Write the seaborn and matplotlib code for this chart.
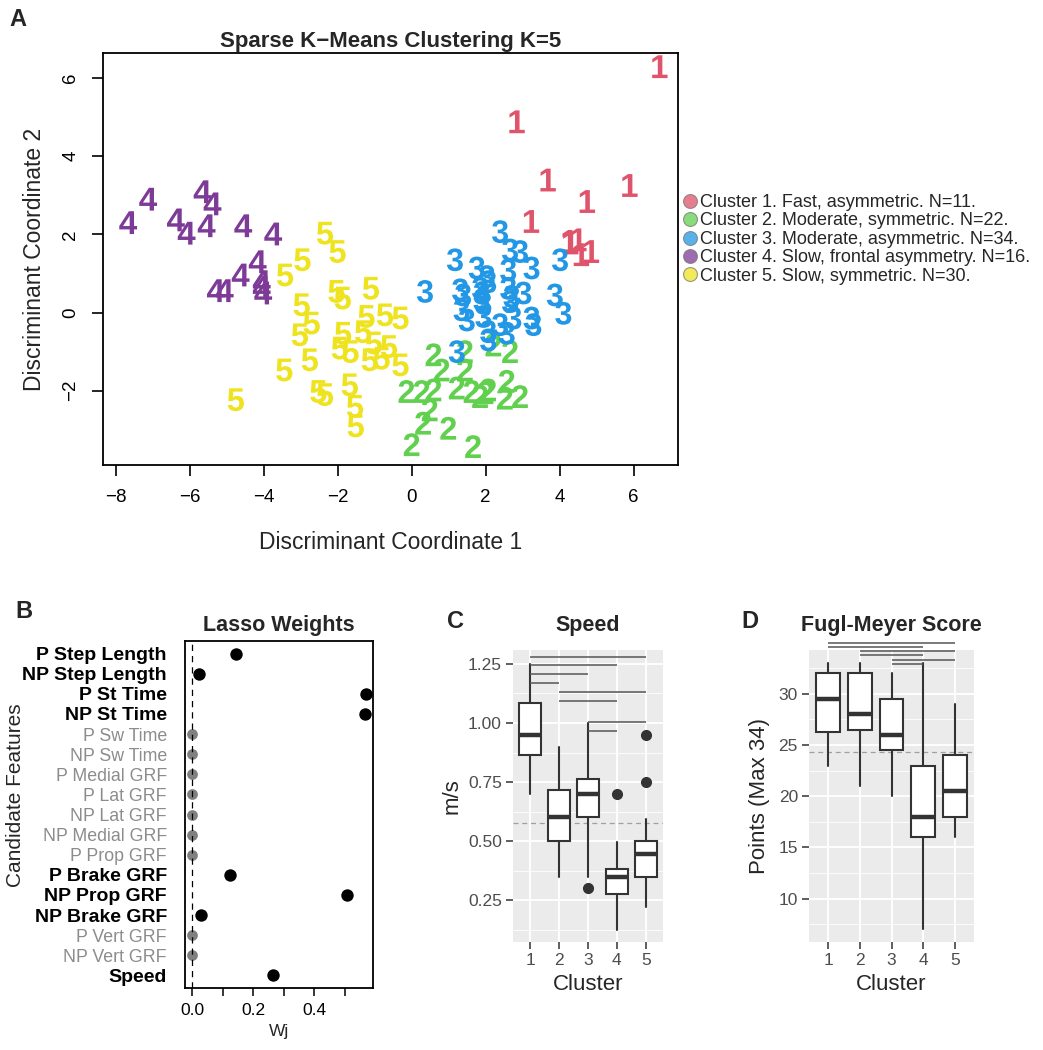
import numpy as np
import pandas as pd
import matplotlib.pyplot as plt
import seaborn as sns
from matplotlib.lines import Line2D

# ---------------- data ----------------
# Panel A: discriminant coordinates, one pair of lists per cluster
c1_x = [6.71, 2.85, 3.69, 5.90, 4.75, 3.24, 4.28, 4.52, 4.59, 4.86, 4.30]
c1_y = [6.29, 4.88, 3.39, 3.25, 2.84, 2.33, 1.82, 1.86, 1.48, 1.56, 1.78]
c2_x = [0.59, 1.44, 2.21, 2.66, 0.81, 1.44, -0.14, 0.27, 0.59, 1.22, 1.62,
        1.85, 2.07, 2.57, 2.52, 2.93, 0.49, 0.31, 0.99, 0.00, 1.66, 2.00]
c2_y = [-1.08, -1.00, -0.83, -1.00, -1.47, -1.47, -2.02, -2.02, -1.98, -1.93, -2.02,
        -2.15, -1.98, -1.76, -2.19, -2.15, -2.49, -2.83, -2.96, -3.38, -3.43, -2.05]
c3_x = [2.39, 2.66, 2.93, 3.24, 1.17, 4.01, 2.61, 1.76, 2.03, 0.36, 1.31, 1.39,
        1.85, 1.89, 1.89, 2.07, 2.61, 2.70, 2.66, 3.02, 3.87, 4.10, 1.35, 1.49,
        1.94, 2.75, 3.24, 3.29, 2.39, 2.57, 2.07, 2.07, 1.22, 1.94]
c3_y = [2.07, 1.60, 1.56, 1.14, 1.35, 1.35, 1.09, 1.14, 0.92, 0.54, 0.58, 0.45,
        0.62, 0.50, 0.32, 0.79, 0.62, 0.41, 0.28, 0.50, 0.45, -0.02, 0.07, -0.19,
        -0.10, -0.14, -0.14, -0.31, -0.31, -0.53, -0.49, -0.70, -1.00, 0.24]
c4_x = [-7.66, -7.12, -6.37, -6.08, -5.65, -5.38, -5.54, -4.55, -3.74, -4.16,
        -4.62, -4.05, -4.01, -4.05, -5.29, -5.05]
c4_y = [2.30, 2.90, 2.37, 2.03, 3.09, 2.78, 2.22, 2.22, 2.01, 1.30,
        0.96, 0.79, 0.50, 0.65, 0.56, 0.56]
c5_x = [-2.34, -2.00, -2.95, -3.42, -1.10, -2.03, -1.86, -2.97, -2.70, -3.02,
        -1.22, -0.72, -0.30, -1.85, -1.31, -1.02, -0.61, -1.94, -1.65, -1.13,
        -0.81, -0.30, -2.75, -3.44, -1.67, -2.52, -2.34, -1.53, -1.51, -4.75]
c5_y = [2.03, 1.56, 1.35, 0.96, 0.62, 0.54, 0.37, 0.20, -0.27, -0.57,
        -0.10, -0.06, -0.14, -0.53, -0.49, -0.78, -0.87, -0.91, -1.00, -1.21,
        -1.17, -1.34, -1.21, -1.47, -1.85, -2.02, -2.10, -2.40, -2.90, -2.23]

cluster_names = ["1", "2", "3", "4", "5"]
cluster_colors = ["#DF536B", "#61D04F", "#2297E6", "#7D3B97", "#EEE31E"]
legend_labels = [
    "Cluster 1. Fast, asymmetric. N=11.",
    "Cluster 2. Moderate, symmetric. N=22.",
    "Cluster 3. Moderate, asymmetric. N=34.",
    "Cluster 4. Slow, frontal asymmetry. N=16.",
    "Cluster 5. Slow, symmetric. N=30.",
]

# Panel B: lasso weights
features = ["P Step Length", "NP Step Length", "P St Time", "NP St Time",
            "P Sw Time", "NP Sw Time", "P Medial GRF", "P Lat GRF", "NP Lat GRF",
            "NP Medial GRF", "P Prop GRF", "P Brake GRF", "NP Prop GRF",
            "NP Brake GRF", "P Vert GRF", "NP Vert GRF", "Speed"]
lasso_w = [0.144, 0.022, 0.568, 0.565, 0, 0, 0, 0, 0, 0, 0,
           0.124, 0.506, 0.029, 0, 0, 0.265]

# Panel C: speed box summaries per cluster
speed_lo = [0.70, 0.35, 0.35, 0.125, 0.22]
speed_q1 = [0.865, 0.50, 0.60, 0.275, 0.35]
speed_med = [0.95, 0.60, 0.70, 0.35, 0.445]
speed_q3 = [1.085, 0.715, 0.765, 0.38, 0.50]
speed_hi = [1.25, 0.90, 1.00, 0.495, 0.595]
speed_out = [[], [], [0.30], [0.70], [0.95, 0.75]]
speed_ref = 0.578
speed_pairs = [(1, 5), (1, 4), (1, 3), (1, 2), (2, 5), (2, 4), (3, 5), (3, 4)]
speed_bar_y = [1.281, 1.246, 1.208, 1.171, 1.131, 1.093, 1.004, 0.966]

# Panel D: Fugl-Meyer box summaries per cluster
fm_lo = [23, 21, 20, 7, 16]
fm_q1 = [26.25, 26.5, 24.5, 16, 18]
fm_med = [29.5, 28, 26, 18, 20.5]
fm_q3 = [32, 32, 29.5, 23, 24]
fm_hi = [33, 33, 32, 33, 29]
fm_out = [[], [], [], [], []]
fm_ref = 24.3
fm_pairs = [(1, 5), (1, 4), (2, 5), (2, 4), (3, 5), (3, 4)]
fm_bar_y = [34.95, 34.56, 34.2, 33.78, 33.32, 32.93]

# ---------------- style ----------------
sns.set_style("white")
plt.rcParams["font.family"] = ["Liberation Sans", "DejaVu Sans"]
plt.rcParams["mathtext.fontset"] = "custom"
plt.rcParams["mathtext.rm"] = "Liberation Sans:bold"
plt.rcParams["mathtext.it"] = "Liberation Sans:bold"

fig = plt.figure(figsize=(10.43, 10.5), dpi=100)
W, H = 1043, 1050


def px_axes(left, top, right, bottom):
    return fig.add_axes([left / W, 1 - bottom / H, (right - left) / W, (bottom - top) / H])


# ---------------- panel A ----------------
axA = px_axes(103, 53, 678, 465)
xs = [c1_x, c2_x, c3_x, c4_x, c5_x]
ys = [c1_y, c2_y, c3_y, c4_y, c5_y]
dfA = pd.concat([pd.DataFrame({"dc1": x, "dc2": y, "cluster": n})
                 for x, y, n in zip(xs, ys, cluster_names)], ignore_index=True)
sns.scatterplot(data=dfA, x="dc1", y="dc2", hue="cluster", style="cluster",
                palette=dict(zip(cluster_names, cluster_colors)),
                markers={n: f"${n}$" for n in cluster_names},
                s=270, linewidth=0, legend=False, ax=axA)
axA.set_xlim(-8.34, 7.2)
axA.set_ylim(-3.9, 6.64)
axA.set_xticks(np.arange(-8, 7, 2))
axA.set_yticks(np.arange(-2, 7, 2))
axA.tick_params(direction="out", length=8, width=1.2, labelsize=13.5, pad=9,
                left=True, bottom=True, colors="black")
axA.tick_params(axis="y", labelrotation=90)
for lab in axA.get_yticklabels():
    lab.set_verticalalignment("center")
for s in axA.spines.values():
    s.set_color("black")
    s.set_linewidth(1.3)
axA.set_xlabel("Discriminant Coordinate 1", fontsize=16.5, labelpad=18)
axA.set_ylabel("Discriminant Coordinate 2", fontsize=16.5, labelpad=12)
axA.set_title("Sparse K\u2212Means Clustering K=5", fontsize=16, fontweight="bold", pad=4.5)

handles = [Line2D([], [], marker="o", ls="", markersize=10,
                  markerfacecolor=c, markeredgecolor="#777777", markeredgewidth=0.8, alpha=0.75)
           for c in cluster_colors]
fig.legend(handles, legend_labels, loc="upper left", bbox_to_anchor=(683 / W, 1 - 194 / H),
           frameon=False, fontsize=13, handlelength=0.8, handletextpad=0.15,
           labelspacing=0.08, borderpad=0, borderaxespad=0)

# ---------------- panel B ----------------
axB = px_axes(185, 641, 373, 988)
rows = np.arange(len(features))
dfB = pd.DataFrame({"w": lasso_w, "row": rows, "sel": [w > 0 for w in lasso_w]})
sns.scatterplot(data=dfB[dfB.sel], x="w", y="row", color="black", s=80,
                linewidth=0, ax=axB)
sns.scatterplot(data=dfB[~dfB.sel], x="w", y="row", color="#808080", s=60,
                linewidth=0, ax=axB)
axB.axvline(0, color="black", lw=0.9, ls=(0, (5, 4)))
axB.set_xlim(-0.0227, 0.591)
axB.set_ylim(16.63, -0.63)
axB.set_xticks(np.arange(0, 0.51, 0.1))
axB.set_xticklabels(["0.0", "", "0.2", "", "0.4", ""])
axB.set_yticks(rows)
axB.set_yticklabels(features)
for lab, w in zip(axB.get_yticklabels(), lasso_w):
    if w > 0:
        lab.set_fontweight("bold")
        lab.set_color("black")
        lab.set_fontsize(14)
    else:
        lab.set_color("#8c8c8c")
        lab.set_fontsize(12.8)
axB.set_yticks([4, 9, 14], minor=True)
axB.tick_params(axis="y", which="major", length=0, pad=13)
axB.tick_params(axis="y", which="minor", length=7, width=1.2, left=True, color="black")
axB.tick_params(axis="x", direction="out", length=6, width=1.1, labelsize=12.5,
                bottom=True, pad=5, colors="black")
for s in axB.spines.values():
    s.set_color("black")
    s.set_linewidth(1.3)
axB.set_xlabel("Wj", fontsize=12.5, labelpad=4)
axB.set_ylabel("Candidate Features", fontsize=15)
axB.yaxis.set_label_coords((25 - 185) / 188, 0.556)
axB.set_title("Lasso Weights", fontsize=15.5, fontweight="bold", pad=7)


# ---------------- panels C and D (ggplot look) ----------------
def gg_box(ax, lo, q1, med, q3, hi, out, ref, pairs, bar_y, ylim, major, minor):
    ax.set_facecolor("#EBEBEB")
    stats = [dict(whislo=a, q1=b, med=c, q3=d, whishi=e, fliers=f)
             for a, b, c, d, e, f in zip(lo, q1, med, q3, hi, out)]
    ax.axhline(ref, color="#A0A0A0", lw=0.9, ls=(0, (4, 3)), zorder=1)
    ax.bxp(stats, positions=range(1, 6), widths=0.75, patch_artist=True,
           showcaps=False, manage_ticks=False,
           boxprops=dict(facecolor="white", edgecolor="#333333", lw=1.5),
           medianprops=dict(color="#333333", lw=3.2),
           whiskerprops=dict(color="#333333", lw=1.5),
           flierprops=dict(marker="o", markerfacecolor="#333333",
                           markeredgecolor="#333333", markersize=7),
           zorder=2)
    for (a, b), yy in zip(pairs, bar_y):
        ax.hlines(yy, a, b, color="#555555", lw=1.1, clip_on=False, zorder=3)
    ax.set_xlim(0.4, 5.6)
    ax.set_ylim(*ylim)
    ax.set_yticks(major)
    ax.set_yticks(minor, minor=True)
    ax.set_xticks(range(1, 6))
    ax.set_xticklabels([str(i) for i in range(1, 6)])
    ax.grid(True, which="major", color="white", lw=1.3)
    ax.grid(True, which="minor", axis="y", color="white", lw=0.6)
    ax.set_axisbelow(True)
    for s in ax.spines.values():
        s.set_visible(False)
    ax.tick_params(which="major", direction="out", length=5, width=1.1, color="#333333",
                   labelcolor="#4D4D4D", labelsize=12.5, left=True, bottom=True, pad=3)
    ax.tick_params(which="minor", length=0)
    ax.set_xlabel("Cluster", fontsize=16, labelpad=4)


axC = px_axes(513, 650, 663, 942)
gg_box(axC, speed_lo, speed_q1, speed_med, speed_q3, speed_hi, speed_out, speed_ref,
       speed_pairs, speed_bar_y, (0.073, 1.309),
       [0.25, 0.50, 0.75, 1.00, 1.25], [0.125, 0.375, 0.625, 0.875, 1.125])
axC.set_yticklabels(["0.25", "0.50", "0.75", "1.00", "1.25"])
axC.set_ylabel("m/s", fontsize=16, labelpad=4)
axC.set_title("Speed", fontsize=15.5, fontweight="bold", pad=14)

axD = px_axes(809, 650, 974, 942)
gg_box(axD, fm_lo, fm_q1, fm_med, fm_q3, fm_hi, fm_out, fm_ref,
       fm_pairs, fm_bar_y, (5.75, 34.29),
       [10, 15, 20, 25, 30], [7.5, 12.5, 17.5, 22.5, 27.5, 32.5])
axD.set_ylabel("Points (Max 34)", fontsize=16, labelpad=6)
axD.set_title("Fugl-Meyer Score", fontsize=15.5, fontweight="bold", pad=14)

# panel letters
fig.text(18 / W, 1 - 20 / H, "A", fontsize=17, fontweight="bold", ha="center", va="center")
fig.text(24 / W, 1 - 612 / H, "B", fontsize=17, fontweight="bold", ha="center", va="center")
fig.text(455 / W, 1 - 622 / H, "C", fontsize=17, fontweight="bold", ha="center", va="center")
fig.text(750 / W, 1 - 622 / H, "D", fontsize=17, fontweight="bold", ha="center", va="center")

fig.savefig("out.png", dpi=100)
